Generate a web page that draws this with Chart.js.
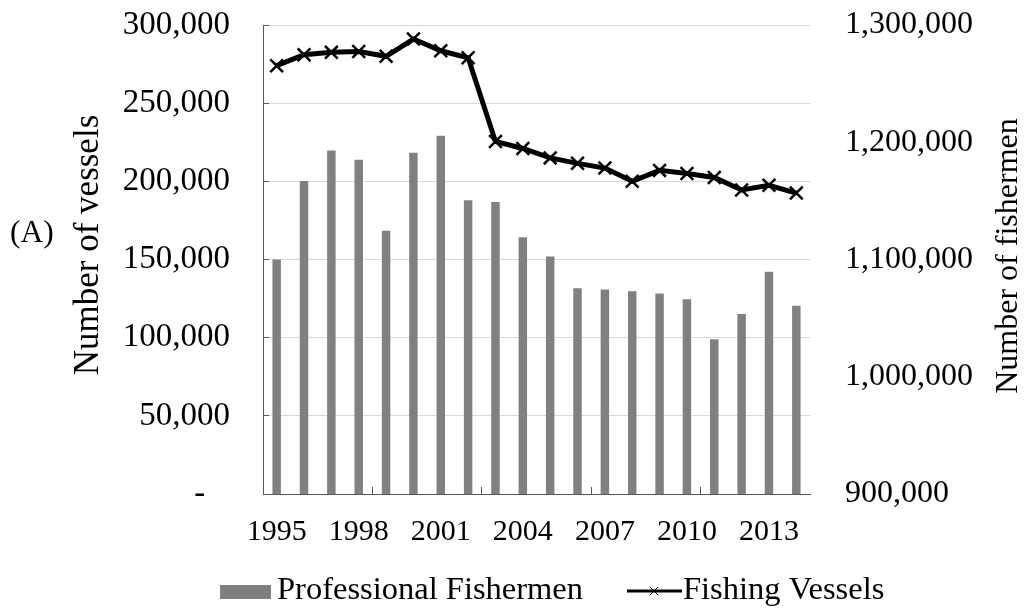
<!DOCTYPE html>
<html>
<head>
<meta charset="utf-8">
<title>Fishermen and fishing vessels</title>
<script src="https://cdn.jsdelivr.net/npm/chart.js@4.4.1/dist/chart.umd.min.js"></script>
<style>
  html, body { margin: 0; padding: 0; background: #fff; }
  .chart-box { width: 1024px; height: 612px; position: relative; }
</style>
</head>
<body>
<div class="chart-box"><canvas id="fish-chart"></canvas></div>
<script>

const years = ['1995', '1996', '1997', '1998', '1999', '2000', '2001', '2002', '2003', '2004',
    '2005', '2006', '2007', '2008', '2009', '2010', '2011', '2012', '2013', '2014'];

// only every third year gets a label
const shownYears = ['1995', '1998', '2001', '2004', '2007', '2010', '2013'];

const fishermen = [1100000, 1167000, 1193000, 1185000, 1124500, 1191000, 1205500, 1150500, 1149000, 1119000,
    1102500, 1075500, 1074500, 1073000, 1071000, 1066000, 1032000, 1053500, 1089500, 1060500];

const vessels = [274000, 281000, 282500, 283000, 280000, 291000, 283500, 279000, 225500, 221000,
    215000, 211500, 208500, 200000, 207000, 205000, 202500, 194500, 197500, 192500];

const serif = '"Liberation Serif", "Times New Roman", serif';
Chart.defaults.font.family = serif;
Chart.defaults.color = '#000';

const axisGrey = '#595959',
    barGrey = '#808080';

// no extra room around the plot for tick labels, the sizes are fixed below
function noPad(s) {
    s.paddingTop = 0;
    s.paddingBottom = 0;
    s.paddingLeft = 0;
    s.paddingRight = 0;
}

// panel letter, axis titles and the legend row
const extras = {
    id: 'extras',
    afterDraw(chart) {
        const c = chart.ctx;
        const sets = chart.data.datasets;
        c.save();
        c.fillStyle = '#000';
        c.textBaseline = 'middle';
        c.font = '31.5px ' + serif;
        c.fillText('(A)', 10, 234);

        c.textAlign = 'center';
        c.save();
        c.font = '35px ' + serif;
        c.translate(89, 245);
        c.rotate(-Math.PI / 2);
        c.fillText('Number of vessels', 0, 0);
        c.restore();

        c.save();
        c.font = '32px ' + serif;
        c.translate(1009, 256);
        c.rotate(-Math.PI / 2);
        c.fillText('Number of fishermen', 0, 0);
        c.restore();

        // legend
        c.textAlign = 'left';
        c.textBaseline = 'alphabetic';
        c.font = '32.5px ' + serif;
        c.fillStyle = sets[0].backgroundColor;
        c.fillRect(220, 585, 51, 14);
        c.fillStyle = '#000';
        c.fillText(sets[0].label, 277, 599);

        c.strokeStyle = sets[1].borderColor;
        c.lineWidth = 3;
        c.beginPath();
        c.moveTo(627, 591);
        c.lineTo(682, 591);
        c.stroke();
        c.lineWidth = 1;
        c.beginPath();
        c.moveTo(650, 587); c.lineTo(658, 595);
        c.moveTo(658, 587); c.lineTo(650, 595);
        c.stroke();
        c.fillText(sets[1].label, 683, 599);
        c.restore();
    }
};

const ctx = document.getElementById('fish-chart').getContext('2d');
const fishChart = new Chart(ctx, {
    data: {
        labels: years,
        datasets: [
            {
                type: 'bar',
                label: 'Professional Fishermen',
                data: fishermen,
                yAxisID: 'y2',
                backgroundColor: barGrey,
                barPercentage: 0.31,
                categoryPercentage: 1,
                order: 2
            },
            {
                type: 'line',
                label: 'Fishing Vessels',
                data: vessels,
                yAxisID: 'y',
                borderColor: '#000',
                borderWidth: 5,
                tension: 0,
                pointStyle: 'crossRot',
                pointRadius: 9,
                pointBorderWidth: 2.5,
                pointBorderColor: '#000',
                order: 1
            }
        ]
    },
    options: {
        responsive: true,
        maintainAspectRatio: false,
        animation: false,
        layout: {
            padding: { top: 25, left: 0, right: 0, bottom: 0 }
        },
        plugins: {
            legend: { display: false },
            tooltip: { enabled: false }
        },
        scales: {
            x: {
                offset: true,
                grid: {
                    offset: true,
                    drawOnChartArea: false,
                    tickLength: -7,
                    tickColor: c => c.index % 4 === 0 ? axisGrey : 'rgba(0,0,0,0)'
                },
                border: { color: axisGrey },
                ticks: {
                    autoSkip: false,
                    maxRotation: 0,
                    padding: 27,
                    font: { size: 30 },
                    callback: (v, i) => shownYears.includes(years[i]) ? years[i] : ''
                },
                afterFit(s) { s.height = 118; noPad(s); }
            },
            y: {
                position: 'left',
                min: 0,
                max: 300000,
                grid: { color: '#d9d9d9', tickLength: -6, tickColor: axisGrey },
                border: { color: axisGrey },
                ticks: {
                    stepSize: 50000,
                    padding: 39,
                    font: { size: 33 },
                    callback: v => v === 0 ? '-   ' : v.toLocaleString('en-US')
                },
                afterFit(s) { s.width = 263; noPad(s); }
            },
            y2: {
                position: 'right',
                min: 900000,
                max: 1300000,
                grid: { display: false },
                border: { display: false },
                ticks: {
                    stepSize: 100000,
                    padding: 27,
                    font: { size: 32 },
                    callback: v => v.toLocaleString('en-US')
                },
                afterFit(s) { s.width = 214; noPad(s); }
            }
        }
    },
    plugins: [extras]
});
</script>
</body>
</html>
